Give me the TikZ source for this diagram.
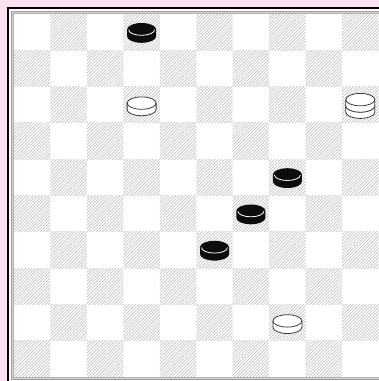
\documentclass[tikz,border=0pt]{standalone}
\usetikzlibrary{patterns.meta}
\definecolor{bgpink}{RGB}{250,226,240}
\definecolor{hatchgray}{RGB}{190,190,190}
\definecolor{rimgray}{RGB}{60,60,60}
\begin{document}
\begin{tikzpicture}[x=1pt,y=-1pt,
  hatched/.style={pattern={Lines[angle=45,distance=2.2pt,line width=0.6pt]},pattern color=hatchgray},
  blackpiece/.pic={
    \fill[black!95] (-14.5,-3.5) -- (-14.5,3.5)
      arc[start angle=180,end angle=0,x radius=14.5,y radius=6.4] -- (14.5,-3.5)
      arc[start angle=0,end angle=-180,x radius=14.5,y radius=6.4] -- cycle;
    \draw[white,line width=0.8pt] (-13,-3.2)
      arc[start angle=180,end angle=0,x radius=13,y radius=5.6];
  },
  whitepiece/.pic={
    \filldraw[fill=white,draw=rimgray,line width=0.8pt] (-14.5,-3.2) -- (-14.5,3.2)
      arc[start angle=180,end angle=0,x radius=14.5,y radius=6.2] -- (14.5,-3.2)
      arc[start angle=0,end angle=-180,x radius=14.5,y radius=6.2] -- cycle;
    \draw[rimgray,line width=0.8pt] (-14.5,-3.2)
      arc[start angle=180,end angle=0,x radius=14.5,y radius=6.2];
  }]
\useasboundingbox (0,0) rectangle (379,381);
\clip (0,0) rectangle (379,381);
\fill[bgpink] (0,0) rectangle (379,381);
% frame
\fill[white] (8,8) rectangle (400,400);
\draw[black,line width=2pt] (8,8) rectangle (400,400);
\fill[gray!35] (11,11) rectangle (381.5,380);
\draw[gray!75,line width=0.9pt] (11.5,11.5) rectangle (381,379.5);
\draw[gray!60,line width=0.8pt] (13.4,13.4) rectangle (379.1,377.6);
% board
\def\sx{36.45}
\def\sy{36.3}
\fill[white] (14,14) rectangle (378.5,377);
\foreach \r in {0,...,9}{
  \foreach \c in {0,...,9}{
    \pgfmathtruncatemacro{\odd}{mod(\r+\c,2)}
    \ifnum\odd=1
      \path[hatched] (14+\c*\sx,14+\r*\sy) rectangle ++(\sx,\sy);
    \fi
  }
}
% pieces
\pic at (141.6,32.9) {blackpiece};
\pic at (287.4,178.1) {blackpiece};
\pic at (250.9,214.4) {blackpiece};
\pic at (214.5,250.7) {blackpiece};
\pic at (141.6,106.3) {whitepiece};
\pic at (287.4,324.1) {whitepiece};
\pic at (360.3,109.0) {whitepiece};
\pic at (360.3,102.8) {whitepiece};
\end{tikzpicture}
\end{document}
